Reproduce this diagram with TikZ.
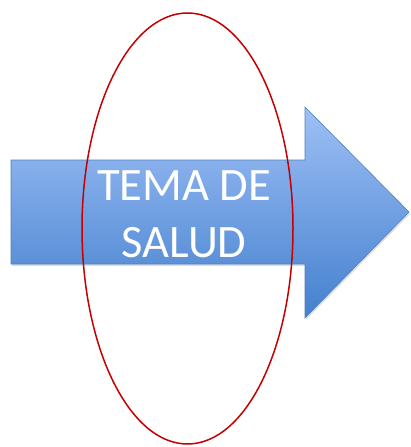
\documentclass[tikz,border=0pt]{standalone}
\usepackage{fontspec}
\setmainfont{Carlito}
\usetikzlibrary{shadows}
\definecolor{arrowtop}{RGB}{158,192,246}
\definecolor{arrowbot}{RGB}{68,128,206}
\definecolor{arrowline}{RGB}{80,128,190}
\definecolor{ringred}{RGB}{196,0,0}
\tikzset{
  bigarrow/.style={draw=arrowline, line width=0.6pt, top color=arrowtop, bottom color=arrowbot, line join=miter,
    drop shadow={shadow xshift=1pt, shadow yshift=-2pt, opacity=0.2, fill=black!60}},
  ring/.style={draw=ringred, line width=1.5pt},
  label/.style={text=white, font=\fontsize{46.5}{57}\selectfont, align=center, inner sep=0pt}
}
\begin{document}
\begin{tikzpicture}[x=1pt, y=-1pt]
\useasboundingbox (0,0) rectangle (410,447);
\path[bigarrow] (11,160) -- (305,160) -- (305,107) -- (409,212) -- (305,318) -- (305,264) -- (11,264) -- cycle;
\node[label, anchor=base] (txt) at (184,257) {TEMA DE\\SALUD};
\draw[ring] (187.5,228.5) ellipse [x radius=105.5, y radius=215.5];
\end{tikzpicture}
\end{document}
